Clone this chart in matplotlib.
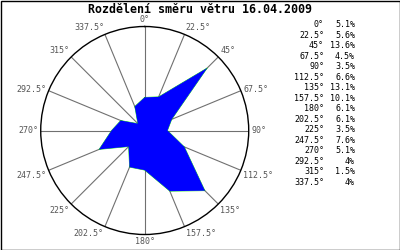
import numpy as np
import matplotlib
matplotlib.use("Agg")
import matplotlib.pyplot as plt
from matplotlib.patches import Rectangle

# wind direction distribution, 16.04.2009
directions = [0, 22.5, 45, 67.5, 90, 112.5, 135, 157.5,
              180, 202.5, 225, 247.5, 270, 292.5, 315, 337.5]
dir_labels = ["0°", "22.5°", "45°", "67.5°", "90°", "112.5°", "135°", "157.5°",
              "180°", "202.5°", "225°", "247.5°", "270°", "292.5°", "315°", "337.5°"]
percents = [5.1, 5.6, 13.6, 4.5, 3.5, 6.6, 13.1, 10.1,
            6.1, 6.1, 3.5, 7.6, 5.1, 4, 1.5, 4]
pct_labels = ["5.1%", "5.6%", "13.6%", "4.5%", "3.5%", "6.6%", "13.1%", "10.1%",
              "6.1%", "6.1%", "3.5%", "7.6%", "5.1%", "4%", "1.5%", "4%"]
rmax = 16

mono = "DejaVu Sans Mono"
fig = plt.figure(figsize=(4, 2.5), dpi=100)
fig.patch.set_facecolor("white")

ax = fig.add_axes([0.1018, 0.062, 0.52, 0.832], projection="polar")
ax.set_theta_zero_location("N")
ax.set_theta_direction(-1)
ax.set_ylim(0, rmax)
ax.set_yticks([])
ax.set_xticks([])
ax.grid(False)
ax.spines["polar"].set_color("black")
ax.spines["polar"].set_linewidth(1)

theta = np.deg2rad(directions)
# spokes
for t in theta:
    ax.plot([t, t], [0, rmax], color="#707070", lw=0.8, zorder=1)

# data polygon
th_closed = np.append(theta, theta[0])
r_closed = np.append(percents, percents[0])
ax.plot(th_closed, r_closed, color="#00dd00", lw=0.5, zorder=2)
ax.fill(th_closed, r_closed, color="#0000ff", lw=0, zorder=3)

# direction labels outside the circle
for d, lab in zip(directions, dir_labels):
    s = np.sin(np.deg2rad(d))
    c = np.cos(np.deg2rad(d))
    ha = "center" if abs(s) < 0.1 else ("left" if s > 0 else "right")
    if c > 0.5:
        va = "bottom"
    elif c < -0.2:
        va = "top"
    else:
        va = "center"
    ax.text(np.deg2rad(d), rmax * 1.025, lab, ha=ha, va=va, fontsize=6,
            family=mono, color="#555555", clip_on=False)

fig.text(0.5, 0.963, "Rozdělení směru větru 16.04.2009", ha="center", va="center",
         fontsize=8.4, family=mono, fontweight="bold", color="black")

# table on the right
y0 = 1 - 24.7 / 250
dy = 10.5 / 250
for i, (lab, p) in enumerate(zip(dir_labels, pct_labels)):
    y = y0 - i * dy
    fig.text(0.81, y, lab, ha="right", va="center", fontsize=6, family=mono, color="black")
    fig.text(0.8875, y, p, ha="right", va="center", fontsize=6, family=mono, color="black")

fig.add_artist(Rectangle((0.5 / 400, 0.5 / 250), 1 - 1 / 400, 1 - 1 / 250,
                         transform=fig.transFigure, fill=False, edgecolor="black", lw=1))

fig.savefig("out.png", dpi=100)
